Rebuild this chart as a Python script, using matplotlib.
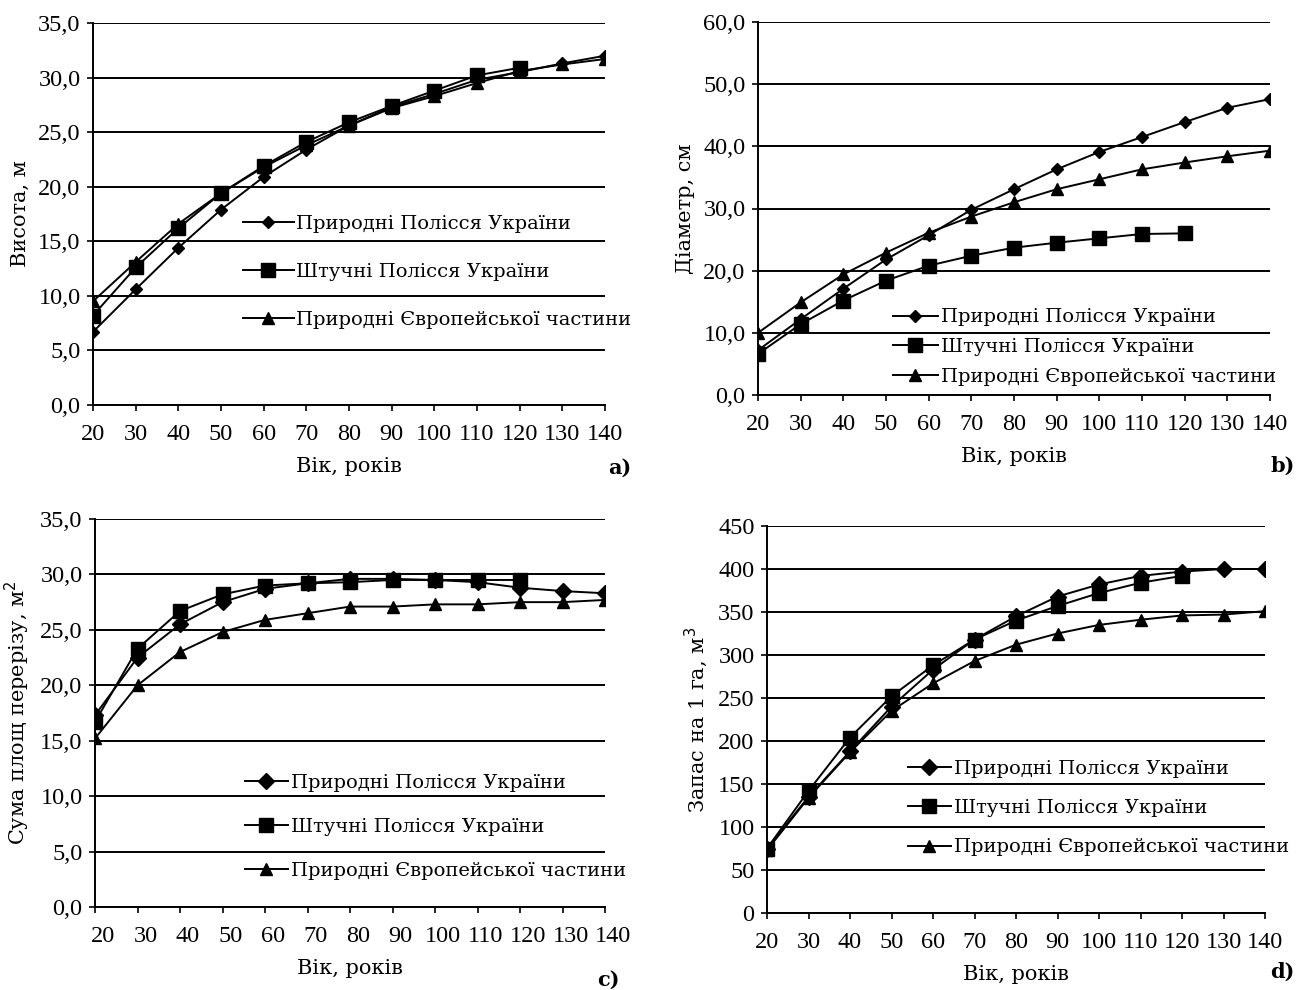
import matplotlib
matplotlib.use('Agg')
import matplotlib.pyplot as plt
from matplotlib.ticker import FuncFormatter
from matplotlib.transforms import ScaledTranslation

plt.rcParams['font.family'] = ['Liberation Serif', 'DejaVu Serif']
plt.rcParams['font.size'] = 14
TXT = ['DejaVu Serif']

age = [20, 30, 40, 50, 60, 70, 80, 90, 100, 110, 120, 130, 140]
age_art = age[:11]

names = ['Природні Полісся України', 'Штучні Полісся України',
         'Природні Європейської частини']

# a) height, m
h_nat = [6.7, 10.6, 14.4, 17.9, 20.9, 23.4, 25.6, 27.3, 28.5, 29.8, 30.5, 31.3, 32.0]
h_art = [8.2, 12.6, 16.2, 19.4, 21.9, 24.1, 25.9, 27.4, 28.8, 30.2, 30.9]
h_eur = [9.5, 13.1, 16.6, 19.4, 21.8, 23.8, 25.6, 27.2, 28.3, 29.5, 30.6, 31.2, 31.7]

# b) diameter, cm
d_nat = [7.2, 12.2, 17.1, 21.8, 25.7, 29.8, 33.1, 36.3, 39.1, 41.5, 43.9, 46.2, 47.6]
d_art = [6.6, 11.4, 15.2, 18.4, 20.8, 22.4, 23.7, 24.5, 25.2, 25.9, 26.0]
d_eur = [10.0, 14.9, 19.4, 22.9, 26.1, 28.7, 31.0, 33.1, 34.7, 36.3, 37.4, 38.4, 39.3]

# c) basal area, m2
g_nat = [17.3, 22.5, 25.5, 27.5, 28.7, 29.2, 29.6, 29.6, 29.5, 29.3, 28.8, 28.5, 28.3]
g_art = [16.7, 23.3, 26.7, 28.2, 29.0, 29.2, 29.3, 29.5, 29.5, 29.5, 29.5]
g_eur = [15.2, 20.0, 23.0, 24.8, 25.9, 26.5, 27.1, 27.1, 27.3, 27.3, 27.5, 27.5, 27.7]

# d) growing stock per ha, m3
v_nat = [75, 135, 188, 240, 283, 318, 345, 368, 382, 392, 397, 400, 400]
v_art = [75, 142, 204, 252, 288, 318, 340, 357, 372, 384, 392]
v_eur = [73, 134, 187, 235, 267, 293, 312, 325, 335, 341, 346, 347, 351]

W, H = 1303, 990
fig = plt.figure(figsize=(W / 100, H / 100), dpi=100)


def px_axes(l, t, r, b):
    return fig.add_axes([l / W, 1 - b / H, (r - l) / W, (b - t) / H])


def comma(v, pos):
    return ('%.1f' % v).replace('.', ',')


def setup(ax, ymax, ystep, fmt):
    ax.set_xlim(20, 140)
    ax.set_ylim(0, ymax)
    ax.set_xticks(age)
    ax.set_yticks([i * ystep for i in range(int(round(ymax / ystep)) + 1)])
    ax.yaxis.set_major_formatter(FuncFormatter(fmt))
    ax.grid(axis='y', color='black', lw=1.4)
    ax.set_axisbelow(True)
    for s in ['top', 'right']:
        ax.spines[s].set_visible(False)
    ax.spines['left'].set_linewidth(1.4)
    ax.spines['bottom'].set_linewidth(1.4)
    ax.tick_params(direction='out', length=4, width=1.2, labelsize=17.5, pad=5)
    ax.tick_params(axis='x', pad=10)


def draw(ax, ys, msizes):
    ax.plot(age, ys[0], color='black', lw=1.4, marker='D', ms=msizes[0], label=names[0])
    ax.plot(age_art, ys[1], color='black', lw=1.4, marker='s', ms=msizes[1], label=names[1])
    ax.plot(age, ys[2], color='black', lw=1.4, marker='^', ms=msizes[2], label=names[2])


def legend(ax, x, y, spacing, hl):
    ax.legend(loc='center left', bbox_to_anchor=(x / W, 1 - y / H),
              bbox_transform=fig.transFigure, frameon=False, borderpad=0,
              borderaxespad=0, labelspacing=spacing, handlelength=hl,
              handletextpad=0.15, prop={'family': TXT, 'size': 14})


def labels(ax, ylab, xl, xt, tag):
    ax.set_ylabel(ylab, fontsize=15, labelpad=6, family=TXT)
    ax.set_xlabel('Вік, років', fontsize=15, labelpad=8, family=TXT)
    fig.text(xl / W, 1 - xt / H, tag, fontsize=15, fontweight='bold',
             ha='center', va='center', family=TXT)


# a)
ax = px_axes(93, 23, 605, 405)
setup(ax, 35, 5, comma)
draw(ax, [h_nat, h_art, h_eur], [6, 10, 9])
labels(ax, 'Висота, м', 620, 468, 'a)')
legend(ax, 243, 272, 1.55, 2.6)

# b)
ax = px_axes(758, 22, 1270, 395)
setup(ax, 60, 10, comma)
draw(ax, [d_nat, d_art, d_eur], [6, 10, 9])
labels(ax, 'Діаметр, см', 1283, 466, 'b)')
legend(ax, 893, 347, 0.6, 2.3)

# c)
ax = px_axes(95, 519, 605, 907)
setup(ax, 35, 5, comma)
draw(ax, [g_nat, g_art, g_eur], [8, 10, 9])
labels(ax, 'Сума площ перерізу, м$^2$', 608, 980, 'c)')
legend(ax, 245, 827, 1.35, 2.2)
# tick labels in this panel sit a bit to the right of their ticks
for lab in ax.get_xticklabels():
    lab.set_transform(lab.get_transform() + ScaledTranslation(8 / 100, 0, fig.dpi_scale_trans))

# d)
ax = px_axes(767, 526, 1265, 913)
setup(ax, 450, 50, lambda v, p: '%d' % v)
draw(ax, [v_nat, v_art, v_eur], [8, 10, 9])
labels(ax, 'Запас на 1 га, м$^3$', 1282, 972, 'd)')
legend(ax, 908, 808, 1.1, 2.2)

fig.savefig('out.png', dpi=100)
